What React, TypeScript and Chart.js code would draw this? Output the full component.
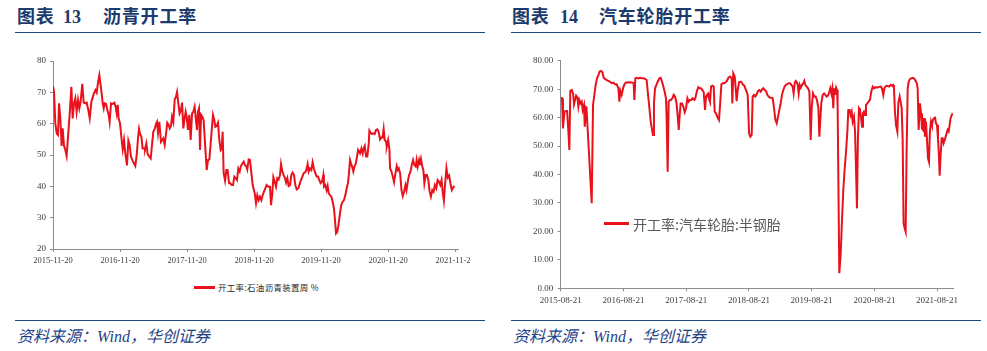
import React, { useEffect, useRef } from 'react';
import { Chart, registerables } from 'chart.js';

Chart.register(...registerables);

// ---------- Chart 13: asphalt operating rate (weekly, weeks since 2015-11-20) ----------
const asphaltTickLabels = ['2015-11-20', '2016-11-20', '2017-11-20', '2018-11-20', '2019-11-20', '2020-11-20', '2021-11-20'];
const asphaltWeeks = [
  0, 0.8, 1.8, 2.9, 3.9, 4.7, 5.7, 6.7, 7.5, 8.6, 9.6, 10.6, 11.9, 13.2, 14.3, 15.3, 16.4, 17.4, 18.4, 19.5,
  20.5, 21.5, 22.8, 23.9, 24.9, 26.2, 27.5, 28.6, 29.9, 30.9, 31.9, 33.0, 34.0, 35.0, 36.1, 37.1, 37.9, 38.7, 39.5, 40.2,
  41.3, 42.3, 43.4, 44.1, 45.2, 46.5, 47.8, 48.8, 49.6, 50.4, 51.1, 52.2, 53.2, 54.3, 55.3, 56.3, 57.6, 58.7, 59.7, 60.7,
  62.0, 63.1, 64.1, 65.2, 66.2, 67.0, 67.8, 68.8, 69.8, 70.9, 71.6, 72.7, 73.7, 75.0, 76.1, 77.1, 78.1, 79.2, 80.2, 81.0,
  81.8, 82.8, 84.1, 85.1, 85.9, 87.0, 88.0, 89.0, 90.1, 90.9, 91.9, 92.7, 93.7, 94.8, 95.8, 96.6, 97.6, 98.6, 99.7, 100.5,
  101.5, 102.5, 103.3, 104.1, 105.1, 106.2, 107.2, 108.3, 109.3, 110.3, 111.1, 112.1, 112.9, 113.7, 114.5, 115.3, 116.3, 117.3, 118.4, 119.7,
  120.7, 121.8, 122.8, 123.8, 124.6, 125.6, 126.4, 127.5, 128.5, 129.5, 130.6, 131.4, 132.1, 132.9, 134.0, 135.0, 136.0, 137.1, 138.1, 139.1,
  140.2, 141.2, 142.3, 143.3, 144.3, 145.4, 146.2, 147.5, 148.5, 149.5, 150.6, 151.3, 152.4,
  153.4, 154.5, 155.5, 157.1, 158.1, 159.1, 160.2, 161.2, 162.3, 163.3, 164.3, 165.4, 166.4, 167.7, 169.0, 169.8, 170.8, 171.6, 172.6, 173.7,
  174.7, 175.7, 176.8, 177.6, 178.6, 179.6, 180.7, 181.5, 182.5, 183.5, 184.6, 185.6, 186.6, 187.7, 188.7, 189.8, 191.1, 192.1, 193.1, 194.2,
  195.2, 196.2, 197.3, 198.3, 199.1, 200.1, 201.2, 202.2, 203.2, 204.3, 205.3, 206.4, 207.4, 208.4, 209.5, 210.5, 211.0, 212.1, 213.1, 213.9,
  214.7, 215.7, 216.8, 217.8, 218.8, 219.6, 220.4, 221.4, 222.5, 223.5, 224.5, 225.6, 226.6, 227.7, 228.7, 229.7, 230.5, 231.3, 232.1, 232.9,
  233.9, 234.7, 235.7, 236.5, 237.6, 238.3, 239.1, 240.2, 241.2, 242.0, 242.8, 243.8, 244.8, 245.9, 246.4, 247.4, 248.5, 249.5, 250.5, 251.5,
  252.6, 253.6, 254.7, 255.7, 256.7, 257.5, 258.3, 259.4, 259.9, 261.0, 262.0, 262.5, 263.6, 264.6, 265.6, 266.7, 267.7, 268.5, 269.3, 270.3,
  271.4, 272.4, 273.4, 274.5, 275.3, 276.3, 277.3, 278.4, 279.4, 280.4, 281.4, 282.5, 283.2, 284.0, 285.1, 285.8, 286.6, 287.6, 288.4, 289.2,
  290.2, 291.2, 292.3, 293.3, 294.3, 295.4, 296.4, 297.4, 298.5, 299.5, 300.5, 301.6, 302.6, 303.6, 304.4, 305.4, 306.4, 307.5, 308.5, 309.5,
  310.6, 311.6, 312.7,
];
const asphaltRate = [
  72.0, 70.2, 60.1, 56.9, 56.4, 66.5, 61.7, 52.9, 58.5, 52.9, 51.6, 49.7, 56.9, 64.4, 71.8, 61.7, 66.5, 68.1, 63.8, 67.6,
  64.9, 67.0, 72.7, 66.7, 66.5, 66.7, 64.4, 61.7, 67.0, 68.4, 69.7, 70.7, 69.9, 72.9, 75.5, 72.3, 69.7, 66.5, 64.9, 66.5,
  66.3, 64.4, 62.8, 60.6, 66.5, 66.3, 66.7, 65.4, 63.3, 66.0, 61.7, 60.1, 55.9, 51.8, 54.8, 50.5, 46.7, 54.6, 53.2, 49.5,
  48.2, 47.3, 46.5, 50.0, 55.3, 58.3, 56.7, 55.9, 52.1, 52.1, 51.8, 53.7, 50.3, 49.5, 48.9, 53.2, 57.4, 58.3, 59.9, 60.6,
  57.1, 60.6, 54.2, 54.8, 55.3, 53.2, 56.7, 60.3, 59.6, 58.5, 59.3, 62.2, 60.6, 67.8, 68.6, 70.1, 66.5, 63.3, 64.4, 66.7,
  58.5, 61.7, 63.8, 62.2, 58.0, 62.8, 54.8, 63.3, 63.8, 65.4, 62.2, 58.0, 63.8, 64.9, 51.6, 62.8, 62.2, 61.1, 53.7, 45.2,
  48.4, 48.6, 53.7, 59.0, 62.8, 61.1, 59.0, 59.3, 60.3, 54.8, 51.6, 52.1, 57.4, 44.2, 41.8, 45.2, 45.2, 41.0, 41.0, 40.4,
  40.4, 43.1, 42.6, 42.0, 45.7, 44.7, 46.3, 47.3, 47.9, 46.8, 46.3, 45.4, 48.6,
  48.4, 44.2, 40.4, 37.8, 34.6, 37.2, 35.6, 36.7, 35.6, 37.2, 38.3, 39.4, 40.4, 39.9, 39.9, 34.0, 37.8, 42.9, 41.5, 39.9,
  42.6, 42.2, 43.6, 47.1, 44.7, 43.6, 42.6, 41.2, 42.6, 40.1, 40.4, 43.6, 44.4, 43.6, 40.4, 39.0, 39.4, 40.7, 42.0, 43.1,
  44.2, 44.4, 45.2, 47.1, 44.7, 45.7, 45.2, 47.7, 45.7, 44.2, 43.1, 43.1, 42.0, 41.0, 41.5, 43.6, 39.9, 40.4, 38.8, 40.1,
  37.8, 37.2, 36.7, 35.1, 33.0, 29.2, 25.0, 25.5, 28.2, 31.4, 34.0, 35.1, 35.6, 37.2, 39.4, 41.0, 44.2, 48.4, 47.3, 46.3,
  44.7, 46.3, 47.1, 48.9, 51.6, 51.1, 50.5, 52.1, 50.5, 52.1, 52.9, 49.5, 49.5, 53.7, 57.8, 57.1, 56.7, 56.9, 56.7, 58.0,
  58.2, 57.4, 55.0, 55.6, 55.6, 58.3, 54.8, 54.2, 52.7, 54.8, 51.8, 45.7, 44.7, 43.1, 41.3, 44.2, 46.5, 45.2, 45.7, 44.2,
  38.8, 36.9, 38.3, 40.4, 38.8, 41.5, 43.6, 44.7, 46.8, 48.4, 46.8, 46.3, 48.4, 46.3, 48.4, 46.8, 48.7, 46.3, 45.2, 41.0,
  43.6, 43.6, 42.0, 38.3, 36.7, 38.8, 38.3, 40.4, 39.4, 42.0, 41.5, 40.4, 42.0, 37.8, 35.4, 41.0, 45.8, 42.8, 43.4, 41.0,
  38.8, 39.6, 40.1,
];

// ---------- Chart 14: tyre (semi-steel) operating rate (weeks since 2015-08-21) ----------
const tireTickLabels = ['2015-08-21', '2016-08-21', '2017-08-21', '2018-08-21', '2019-08-21', '2020-08-21', '2021-08-21'];
const tireWeeks = [
  0.0, 1.1, 1.9, 3.1, 4.2, 5.3, 6.4, 7.2, 8.0, 9.2, 10.3, 11.1, 11.9, 12.8, 13.9, 14.7, 15.5, 16.6, 17.5, 18.3,
  19.4, 20.0, 21.4, 25.8, 26.9, 28.0, 29.1, 30.2, 31.3, 32.4, 33.6, 34.7, 35.8, 36.9, 38.3, 39.7, 41.0, 42.4, 43.8, 45.2,
  46.6, 48.0, 48.8, 49.6, 50.7, 51.9, 53.0, 54.1, 55.5, 56.8, 58.2, 59.6, 60.7, 61.3, 62.1, 63.2, 64.6, 66.0, 67.4, 68.8,
  70.2, 71.5, 72.7, 73.8, 74.9, 76.0, 76.8, 77.6, 78.5, 79.6, 80.7, 82.1, 83.2, 84.3, 85.4, 86.5, 87.6, 88.2, 89.0, 89.8,
  91.0, 91.8, 92.9, 94.0, 95.1, 96.2, 97.3, 98.2, 99.0, 99.8, 100.9, 102.0, 103.2, 104.3, 105.4, 106.5, 107.6, 108.7, 109.8, 111.2,
  112.0, 113.4, 114.5, 115.6, 116.7, 117.9, 119.0, 120.1, 120.9, 121.7, 122.8, 123.7, 124.2, 125.1, 126.2, 127.3, 128.1, 129.2, 130.3, 131.7,
  132.6, 133.7, 134.8, 135.9, 137.3, 138.4, 139.5, 140.9, 142.3, 142.8, 143.6, 144.8, 145.6, 146.4, 147.2, 148.4, 149.5, 150.6, 151.7, 152.8,
  153.6, 154.7, 155.6, 156.7, 157.8, 158.9,
  159.7, 160.8, 161.9, 163.1, 164.2, 165.3, 166.4, 167.5, 168.6, 169.7, 170.8, 171.9, 173.0, 174.1, 175.3, 176.4, 177.5, 178.6, 179.7, 180.8,
  181.9, 183.0, 184.1, 185.2, 186.3, 187.5, 188.6, 189.7, 190.8, 191.9, 193.0, 193.8, 194.7, 195.5, 196.3, 197.2, 198.0, 198.8, 199.7, 200.8,
  201.9, 202.7, 203.5, 204.7, 205.8, 206.9, 208.0, 208.8, 209.9, 211.0, 212.1, 213.2, 214.4, 215.2, 216.0, 216.8, 218.0, 219.1, 220.2, 221.3,
  222.4, 223.5, 224.3, 225.2, 226.0, 226.8, 227.4, 228.2, 229.1, 229.9, 230.4, 231.8, 232.9, 234.0, 235.2, 236.3, 237.4, 238.5, 239.3, 240.4,
  241.2, 242.1, 242.9, 244.0, 244.9, 245.7, 246.5, 247.3, 248.2, 249.0, 249.8, 250.7, 251.5, 252.3, 253.2, 254.0, 255.1, 256.2, 257.3, 258.4,
  259.6, 260.7, 261.8, 262.9, 264.0, 265.1, 266.2, 267.3, 268.4, 269.3, 270.1, 271.2, 272.3, 273.4, 274.5, 275.6, 276.5, 277.3, 278.1, 279.0,
  280.1, 280.9, 282.0, 282.8, 283.7, 284.5, 285.3, 286.2, 287.0, 287.8, 288.7, 289.5, 290.6, 291.7, 292.8, 293.9, 295.0, 296.2, 297.0, 297.8,
  298.9, 299.8, 300.6, 301.4, 302.3, 303.1, 303.9, 304.7, 305.6, 306.4, 307.2, 308.1, 308.9, 309.7, 310.6, 311.4, 312.2, 313.1, 313.9, 314.7,
  315.3, 316.1, 317.0, 317.8, 318.6, 319.5, 320.3, 321.1, 321.9, 322.8, 323.6, 324.4, 325.3, 326.1,
];
const tireRate = [
  67.0, 66.8, 56.2, 62.1, 62.3, 62.3, 55.1, 48.6, 69.4, 69.7, 68.5, 64.7, 66.2, 67.7, 67.0, 63.9, 66.2, 65.0, 65.6, 62.7,
  64.4, 56.8, 63.9, 29.9, 64.4, 68.0, 71.5, 73.8, 74.8, 76.2, 76.4, 75.9, 74.0, 73.6, 73.2, 72.9, 72.6, 72.1, 72.3, 71.7,
  71.7, 70.3, 65.6, 69.4, 68.0, 70.3, 71.7, 72.3, 72.4, 72.3, 72.4, 72.3, 72.1, 66.2, 73.8, 74.0, 73.8, 74.0, 73.8, 73.8,
  73.6, 73.2, 68.0, 63.3, 58.6, 55.7, 53.9, 65.0, 70.3, 71.5, 72.6, 73.8, 74.0, 72.6, 70.9, 69.1, 66.8, 58.6, 41.0, 65.6,
  66.2, 66.2, 66.8, 68.0, 67.4, 65.6, 60.9, 55.7, 60.9, 65.0, 65.0, 63.9, 61.9, 63.3, 66.8, 65.6, 66.2, 66.2, 66.8, 66.2,
  66.8, 69.4, 70.7, 70.3, 70.3, 69.7, 68.9, 62.7, 67.4, 68.0, 68.5, 66.2, 65.6, 70.9, 71.2, 70.9, 62.1, 61.5, 60.3, 59.2,
  64.4, 71.7, 72.1, 72.1, 72.4, 73.0, 74.0, 74.4, 73.8, 65.0, 75.6, 74.4, 70.3, 65.8, 69.4, 72.4, 72.6, 72.4, 71.5, 71.2,
  70.3, 69.1, 68.0, 54.5, 53.3, 53.9,
  67.4, 68.0, 67.4, 68.2, 69.4, 69.7, 69.1, 69.9, 70.3, 69.7, 69.4, 68.0, 67.4, 67.0, 67.0, 66.8, 63.3, 59.2, 58.0, 60.3,
  62.7, 65.0, 68.0, 69.7, 70.9, 71.5, 71.8, 72.1, 72.1, 71.5, 70.9, 68.5, 72.1, 72.9, 72.6, 71.5, 68.5, 71.5, 70.5, 71.5,
  72.1, 72.9, 71.5, 70.9, 70.3, 69.1, 52.1, 63.3, 68.5, 67.4, 67.4, 66.2, 63.3, 53.3, 59.2, 65.0, 68.0, 68.5, 68.0, 67.4,
  67.7, 69.1, 70.3, 68.5, 70.3, 63.3, 70.3, 68.0, 70.5, 69.7, 64.4, 5.3, 11.7, 23.4, 35.1, 42.2, 48.0, 55.1, 62.7, 62.7,
  60.9, 62.1, 58.6, 60.3, 55.1, 42.2, 28.1, 52.7, 63.3, 62.7, 60.3, 56.8, 61.5, 62.1, 60.9, 64.4, 65.0, 65.6, 66.2, 69.1,
  70.9, 70.3, 70.7, 70.5, 70.7, 70.8, 70.9, 70.3, 68.0, 70.3, 70.9, 71.2, 71.1, 70.9, 71.5, 71.2, 71.5, 70.3, 62.1, 57.4,
  55.1, 65.0, 67.4, 65.6, 63.3, 52.7, 22.8, 21.1, 19.9, 48.0, 70.3, 72.6, 73.6, 73.8, 74.0, 73.8, 73.2, 72.1, 70.3, 55.7,
  65.0, 61.5, 56.2, 55.7, 59.8, 53.3, 58.6, 52.7, 45.7, 44.5, 55.1, 58.6, 57.4, 59.2, 59.8, 60.3, 58.0, 57.4, 52.7, 46.9,
  39.6, 46.9, 52.7, 52.7, 51.0, 52.1, 53.3, 54.5, 55.7, 55.1, 57.4, 59.8, 60.9, 61.5,
];

const RED = '#E8111C';
const AXIS = '#8C8C8C';
const TICK_TEXT = '#404040';
const NAVY = '#1B3A6E';
const SERIF = '"Liberation Serif", "Times New Roman", "Noto Sans CJK SC", serif';
const CJK = '"Noto Sans CJK SC", "Liberation Sans", sans-serif';

const weeksBetween = (a: string, b: string) => (Date.parse(b) - Date.parse(a)) / (7 * 86400000);

type Geo = {
  yMin: number; yMax: number; yStep: number; decimals: number; xMax: number;
  yAxisWidth: number; xAxisHeight: number;
  padding: { left: number; top: number; right: number; bottom: number };
  xFont: number; yFont: number; xPad: number; yPad: number;
};

function buildConfig(weeks: number[], values: number[], tickLabels: string[], g: Geo): any {
  const tickPos = tickLabels.map((l) => weeksBetween(tickLabels[0], l));
  const gridOpts = { display: true, drawOnChartArea: false, drawTicks: true, tickLength: 3, color: AXIS, lineWidth: 1 };
  return {
    type: 'line',
    data: {
      datasets: [
        {
          data: weeks.map((w, i) => ({ x: w, y: values[i] })),
          borderColor: RED,
          backgroundColor: RED,
          borderWidth: 2,
          pointRadius: 0,
          tension: 0,
          fill: false,
        },
      ],
    },
    options: {
      animation: false,
      responsive: false,
      maintainAspectRatio: false,
      events: [],
      layout: { padding: g.padding },
      plugins: { legend: { display: false }, tooltip: { enabled: false } },
      scales: {
        x: {
          type: 'linear',
          min: 0,
          max: g.xMax,
          afterBuildTicks: (s: any) => {
            s.ticks = tickPos.map((v) => ({ value: v }));
          },
          afterFit: (s: any) => {
            s.height = g.xAxisHeight;
            s.paddingLeft = 0;
            s.paddingRight = 0;
          },
          ticks: {
            autoSkip: false,
            maxRotation: 0,
            minRotation: 0,
            padding: g.xPad,
            color: TICK_TEXT,
            font: { family: SERIF, size: g.xFont },
            callback: (_v: any, i: number) => tickLabels[i],
          },
          grid: gridOpts,
          border: { display: true, color: AXIS, width: 1 },
        },
        y: {
          min: g.yMin,
          max: g.yMax,
          afterFit: (s: any) => {
            s.width = g.yAxisWidth;
            s.paddingTop = 0;
            s.paddingBottom = 0;
          },
          ticks: {
            stepSize: g.yStep,
            padding: g.yPad,
            color: TICK_TEXT,
            font: { family: SERIF, size: g.yFont },
            callback: (v: any) => Number(v).toFixed(g.decimals),
          },
          grid: gridOpts,
          border: { display: true, color: AXIS, width: 1 },
        },
      },
    },
  };
}

function LineCanvas(props: { weeks: number[]; values: number[]; tickLabels: string[]; geo: Geo; left: number; top: number; width: number; height: number }) {
  const ref = useRef<HTMLCanvasElement | null>(null);
  useEffect(() => {
    if (!ref.current) return;
    const chart = new Chart(ref.current, buildConfig(props.weeks, props.values, props.tickLabels, props.geo));
    return () => chart.destroy();
  }, []);
  return (
    <canvas
      ref={ref}
      width={props.width}
      height={props.height}
      style={{ position: 'absolute', left: props.left, top: props.top, width: props.width, height: props.height }}
    />
  );
}

const abs = (s: React.CSSProperties): React.CSSProperties => ({ position: 'absolute', whiteSpace: 'nowrap', ...s });

function Header(props: { x: number; num: string; numX: number; titleX: number; title: string }) {
  const common: React.CSSProperties = { top: 8, lineHeight: '18px', fontSize: 18, fontWeight: 'bold', color: NAVY, fontFamily: SERIF, letterSpacing: 0.8 };
  return (
    <>
      <div style={abs({ ...common, left: props.x })}>图表</div>
      <div style={abs({ ...common, left: props.numX, letterSpacing: 0 })}>{props.num}</div>
      <div style={abs({ ...common, left: props.titleX })}>{props.title}</div>
    </>
  );
}

function Rule(props: { x: number; y: number; w: number }) {
  return <div style={abs({ left: props.x, top: props.y, width: props.w, height: 1.5, background: '#1F4A86' })} />;
}

function Footer(props: { x: number }) {
  return (
    <div style={abs({ left: props.x, top: 328, lineHeight: '18px', fontSize: 16, fontStyle: 'italic', color: '#1F3F86', fontFamily: SERIF })}>
      资料来源：Wind，华创证券
    </div>
  );
}

export default function App() {
  const leftGeo: Geo = {
    yMin: 20, yMax: 80, yStep: 10, decimals: 0, xMax: 315.4,
    yAxisWidth: 53, xAxisHeight: 21,
    padding: { left: 0, top: 21, right: 12, bottom: 0 },
    xFont: 8.5, yFont: 9, xPad: 4, yPad: 4,
  };
  const rightGeo: Geo = {
    yMin: 0, yMax: 80, yStep: 10, decimals: 2, xMax: 326.4,
    yAxisWidth: 66.7, xAxisHeight: 21.7,
    padding: { left: 0, top: 20.7, right: 34, bottom: 0 },
    xFont: 9, yFont: 9, xPad: 4, yPad: 4.5,
  };
  return (
    <div style={{ position: 'absolute', left: 0, top: 0, width: 987, height: 351, background: '#ffffff', overflow: 'hidden' }}>
      <Header x={17} num="13" numX={63} titleX={103} title="沥青开工率" />
      <Header x={512} num="14" numX={560} titleX={599} title="汽车轮胎开工率" />
      <Rule x={15} y={31.5} w={470} />
      <Rule x={511} y={31.5} w={470} />

      <LineCanvas weeks={asphaltWeeks} values={asphaltRate} tickLabels={asphaltTickLabels} geo={leftGeo} left={0} top={40} width={470} height={230} />
      <LineCanvas weeks={tireWeeks} values={tireRate} tickLabels={tireTickLabels} geo={rightGeo} left={494} top={40} width={493} height={270} />

      {/* left legend */}
      <div style={abs({ left: 194, top: 286, width: 21, height: 2.5, background: RED })} />
      <div style={abs({ left: 218, top: 282, lineHeight: '10px', fontSize: 8.5, color: '#262626', fontFamily: CJK, letterSpacing: 0.3 })}>
        开工率:石油沥青装置周 %
      </div>

      {/* right legend */}
      <div style={abs({ left: 604, top: 222, width: 25, height: 3, background: RED })} />
      <div style={abs({ left: 633, top: 216, lineHeight: '16px', fontSize: 14, color: '#595959', fontFamily: CJK })}>
        开工率:汽车轮胎:半钢胎
      </div>

      <Rule x={15} y={319.5} w={470} />
      <Rule x={511} y={319.5} w={470} />
      <Footer x={17} />
      <Footer x={513} />
    </div>
  );
}
